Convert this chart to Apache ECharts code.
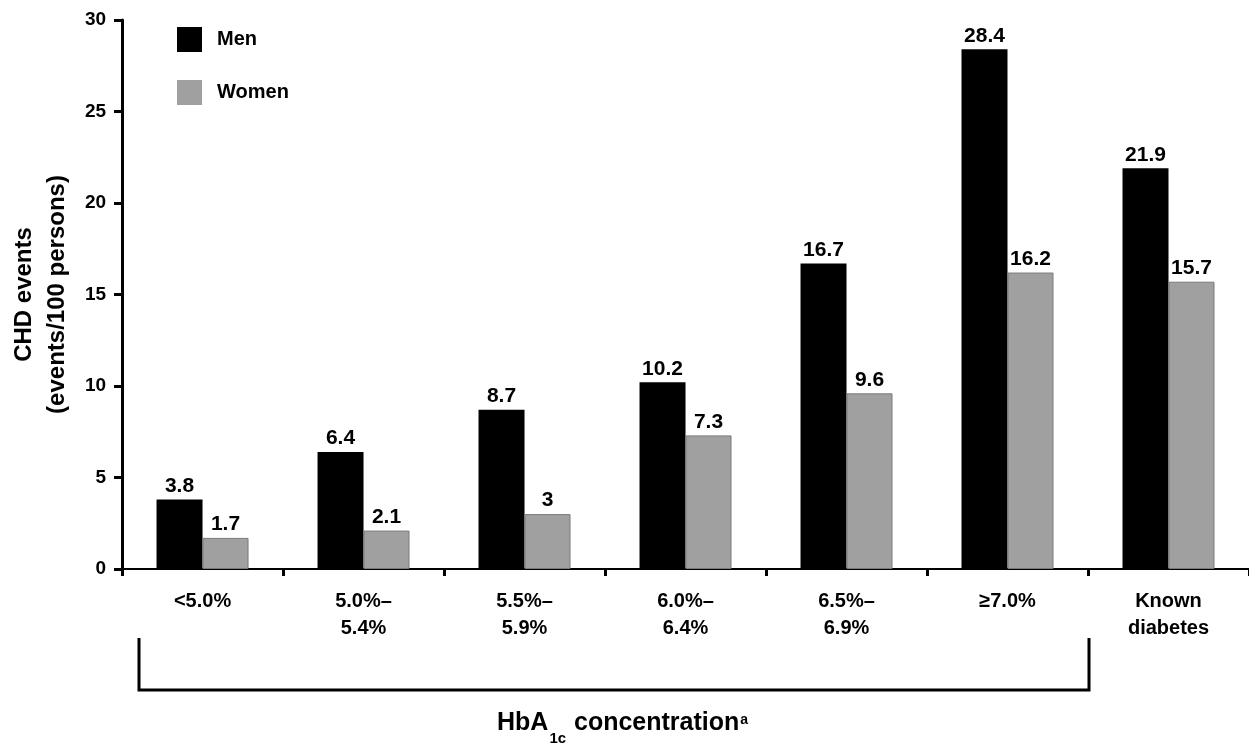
<!DOCTYPE html>
<html>
<head>
<meta charset="utf-8">
<script src="https://cdn.jsdelivr.net/npm/echarts@6/dist/echarts.min.js"></script>
<style>
html,body{margin:0;padding:0;background:#fff;}
#chart{width:1249px;height:744px;}
</style>
</head>
<body>
<div id="chart"></div>
<script>
const categories = ['<5.0%', '5.0%–\n5.4%', '5.5%–\n5.9%', '6.0%–\n6.4%', '6.5%–\n6.9%', '≥7.0%', 'Known\ndiabetes'];
const menValues = [3.8, 6.4, 8.7, 10.2, 16.7, 28.4, 21.9];
const womenValues = [1.7, 2.1, 3, 7.3, 9.6, 16.2, 15.7];
const yTicks = [0, 5, 10, 15, 20, 25, 30];

const FONT = '"Liberation Sans", Arial, sans-serif';
const chart = echarts.init(document.getElementById('chart'));

const labelStyle = {
  show: true, position: 'top', distance: 3,
  color: '#000', fontFamily: FONT, fontWeight: 'bold', fontSize: 21
};

chart.setOption({
  backgroundColor: '#fff',
  animation: false,
  title: {
    text: '{b|HbA}{sub|1c}{b| concentration}{sup|a}',
    left: 497,
    top: 711,
    padding: 0,
    textStyle: {
      rich: {
        b: { fontFamily: FONT, fontWeight: 'bold', fontSize: 25, color: '#000', verticalAlign: 'middle', padding: [0, 0, 10, 0] },
        sub: { fontFamily: FONT, fontWeight: 'bold', fontSize: 15, color: '#000', verticalAlign: 'bottom', padding: [0, 1, 0, 1] },
        sup: { fontFamily: FONT, fontWeight: 'bold', fontSize: 14, color: '#000', verticalAlign: 'middle', padding: [0, 0, 16, 1] }
      }
    }
  },
  legend: {
    orient: 'vertical',
    left: 177,
    top: 27,
    padding: 0,
    itemWidth: 25,
    itemHeight: 25,
    itemGap: 28,
    icon: 'rect',
    itemStyle: { borderWidth: 0 },
    textStyle: { fontFamily: FONT, fontWeight: 'bold', fontSize: 20, color: '#000', padding: [0, 0, 0, 10] },
    data: ['Men', 'Women']
  },
  grid: { left: 120, right: -10, top: 20, bottom: 175, containLabel: false },
  xAxis: {
    type: 'category',
    data: categories,
    boundaryGap: true,
    axisLine: { lineStyle: { color: '#000', width: 2 } },
    axisTick: { show: true, alignWithLabel: false, length: 7, lineStyle: { color: '#000', width: 3 } },
    axisLabel: {
      interval: 0, margin: 19, color: '#000', fontFamily: FONT, fontWeight: 'bold',
      fontSize: 20, lineHeight: 27
    }
  },
  yAxis: {
    type: 'value',
    min: yTicks[0],
    max: yTicks[yTicks.length - 1],
    interval: 5,
    name: 'CHD events\n(events/100 persons)',
    nameLocation: 'middle',
    nameRotate: 90,
    nameGap: 46,
    nameTextStyle: { color: '#000', fontFamily: FONT, fontWeight: 'bold', fontSize: 24, lineHeight: 33 },
    splitLine: { show: false },
    axisLine: { show: true, lineStyle: { color: '#000', width: 3 } },
    axisTick: { show: true, length: 8, lineStyle: { color: '#000', width: 3 } },
    axisLabel: { margin: 16, color: '#000', fontFamily: FONT, fontWeight: 'bold', fontSize: 19 }
  },
  series: [
    {
      name: 'Men', type: 'bar', data: menValues, barWidth: 46, barGap: '0%',
      itemStyle: { color: '#000000', borderWidth: 0 },
      label: labelStyle
    },
    {
      name: 'Women', type: 'bar', data: womenValues, barWidth: 46,
      itemStyle: { color: '#a0a0a0', borderColor: '#7a7a7a', borderWidth: 1 },
      label: labelStyle
    }
  ],
  graphic: [
    {
      type: 'polyline',
      shape: { points: [[139, 638], [139, 690], [1089, 690], [1089, 638]] },
      style: { stroke: '#000', lineWidth: 3, fill: null }
    }
  ]
});
</script>
</body>
</html>
